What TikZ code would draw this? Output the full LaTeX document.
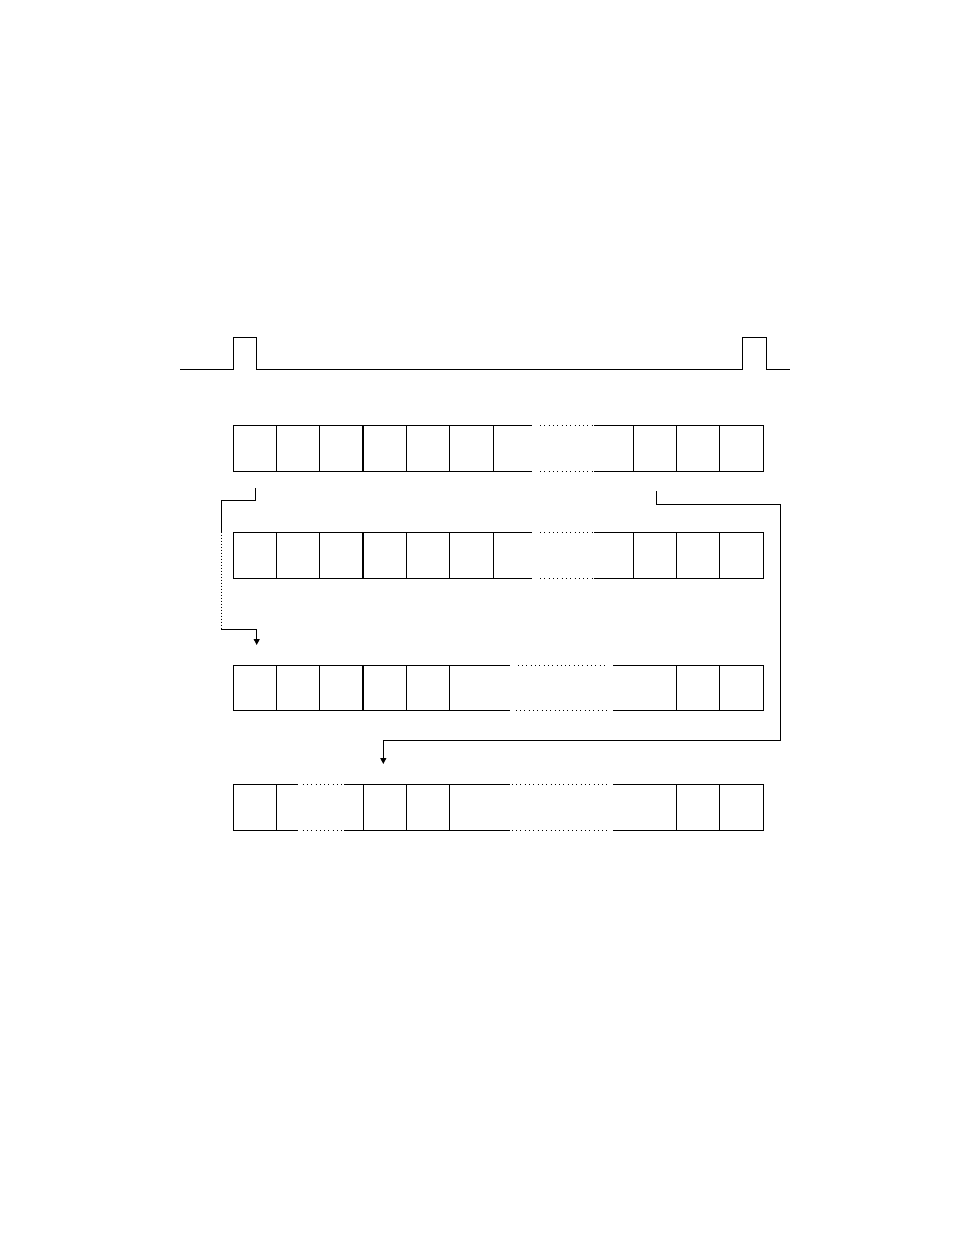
\documentclass[tikz,border=0pt]{standalone}
\usetikzlibrary{arrows.meta}
\begin{document}
\begin{tikzpicture}[x=1pt,y=-1pt,line width=0.9pt,
  cell/.style={draw,rectangle,minimum width=43.3pt,minimum height=46pt,inner sep=0pt,outer sep=0pt},
  cellb/.style={cell,minimum height=45.5pt},
  thickedge/.style={line width=1.7pt},
  dotline/.style={dash pattern=on 1pt off 3.3pt},
  vdot/.style={dash pattern=on 1pt off 2pt},
  arr/.style={-{Triangle[length=6pt,width=6pt]}}]
\useasboundingbox (0,0) rectangle (954,1235);
% pulse train
\coordinate (p0) at (180.3,369);
\coordinate (p1) at (790,369);
\draw (p0) -- (233.3,369) -- (233.3,337.3) -- (256.7,337.3) -- (256.7,369)
  -- (742.7,369) -- (742.7,337.3) -- (766.7,337.3) -- (766.7,369) -- (p1);
% rows 1 and 2
\foreach \r/\y in {1/448.3,2/555.3}{
  \foreach \i in {1,...,6}{
    \node[cell] (r\r c\i) at ({233.3+43.3*(\i-0.5)},\y) {};
  }
  \foreach \j in {1,2,3}{
    \node[cell] (r\r d\j) at ({633.3+43.3*(\j-0.5)},\y) {};
  }
  \draw[thickedge] (r\r c3.north east) -- (r\r c3.south east);
  \draw[thickedge] (r\r d1.north east) -- (r\r d1.south east);
  \draw (r\r c6.north east) -- ++(39,0);
  \draw[dotline] ([xshift=47pt]r\r c6.north east) -- ++(53,0);
  \draw (r\r d1.north west) -- ++(-39.5,0);
  \draw (r\r c6.south east) -- ++(39,0);
  \draw[dotline] ([xshift=47pt]r\r c6.south east) -- ++(53,0);
  \draw (r\r d1.south west) -- ++(-39.5,0);
}
% row 3
\foreach \i in {1,...,5}{
  \node[cellb] (r3c\i) at ({233.3+43.3*(\i-0.5)},687.7) {};
}
\foreach \j in {1,2}{
  \node[cellb] (r3d\j) at ({676.6+43.3*(\j-0.5)},687.7) {};
}
\draw[thickedge] (r3c3.north east) -- (r3c3.south east);
\draw (r3c5.north east) -- ++(60,0);
\draw[dotline] ([xshift=68pt]r3c5.north east) -- ++(89,0);
\draw (r3d1.north west) -- ++(-63.5,0);
\draw (r3c5.south east) -- ++(60,0);
\draw[dotline] ([xshift=66pt]r3c5.south east) -- ++(91,0);
\draw (r3d1.south west) -- ++(-63.5,0);
% row 4
\node[cellb] (r4c1) at (254.95,807.2) {};
\foreach \i in {4,5}{
  \node[cellb] (r4c\i) at ({233.3+43.3*(\i-0.5)},807.2) {};
}
\foreach \j in {1,2}{
  \node[cellb] (r4d\j) at ({676.6+43.3*(\j-0.5)},807.2) {};
}
\draw (r4c1.north east) -- ++(21.4,0);
\draw[dotline] ([xshift=26pt]r4c1.north east) -- ++(40,0);
\draw (r4c4.north west) -- ++(-19.5,0);
\draw (r4c1.south east) -- ++(21.4,0);
\draw[dotline] ([xshift=26pt]r4c1.south east) -- ++(40,0);
\draw (r4c4.south west) -- ++(-19.5,0);
\draw (r4c5.north east) -- ++(60,0);
\draw[dotline] ([xshift=62pt]r4c5.north east) -- ++(95,0);
\draw (r4d1.north west) -- ++(-63.5,0);
\draw (r4c5.south east) -- ++(60,0);
\draw[dotline] ([xshift=62pt]r4c5.south east) -- ++(95,0);
\draw (r4d1.south west) -- ++(-63.5,0);
% connectors
\coordinate (a0) at (255.7,488.3);
\coordinate (a1) at (221.3,500.3);
\coordinate (a2) at (221.3,531.7);
\coordinate (a3) at (221.3,629.3);
\coordinate (a4) at (256.7,645);
\draw (a0) -- (a0 |- a1) -- (a1) -- (a2);
\draw[vdot] (a2) -- (a3);
\draw[arr] (a3) -- (a4 |- a3) -- (a4);
\coordinate (b0) at (656,491);
\coordinate (b1) at (780.7,504.3);
\coordinate (b2) at (780.7,740);
\coordinate (b3) at (383.3,764);
\draw[arr] (b0) -- (b0 |- b1) -- (b1) -- (b2) -- (b3 |- b2) -- (b3);
\end{tikzpicture}
\end{document}
